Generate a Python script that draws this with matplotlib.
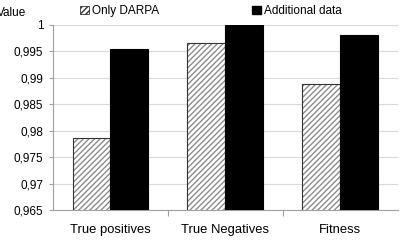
import matplotlib
matplotlib.use("Agg")
import matplotlib.pyplot as plt
import numpy as np
from matplotlib.patches import Patch
from matplotlib.ticker import FuncFormatter, MultipleLocator

plt.rcParams["font.family"] = ["Liberation Sans", "DejaVu Sans"]
plt.rcParams["font.size"] = 8

categories = ["True positives", "True Negatives", "Fitness"]
only_darpa = [0.9787, 0.9966, 0.9888]
additional = [0.9954, 1.0, 0.9981]

fig = plt.figure(figsize=(4.06, 2.40), dpi=100)
ax = fig.add_axes([0.1305, 0.125, 0.8495, 0.771])

x = np.arange(len(categories))
w = 0.33

# hatched bars: grey hatch, dark outline drawn separately
ax.bar(x - w / 2, only_darpa, w, color="white", edgecolor="#8c8c8c",
       hatch="//////", linewidth=0, zorder=2)
ax.bar(x - w / 2, only_darpa, w, color="none", edgecolor="#333333",
       linewidth=0.8, zorder=3)
ax.bar(x + w / 2, additional, w, color="black", edgecolor="black",
       linewidth=0.8, zorder=3)

ax.set_xlim(-0.5, 2.5)
ax.set_ylim(0.965, 1.0)
ax.yaxis.set_major_locator(MultipleLocator(0.005))
ax.yaxis.set_major_formatter(FuncFormatter(lambda v, p: ("%g" % round(v, 4)).replace(".", ",")))
ax.grid(axis="y", color="#d9d9d9", linewidth=0.8, zorder=0)
ax.set_axisbelow(True)

ax.set_xticks(x)
ax.set_xticklabels(categories)
ax.set_xticks([0.5, 1.5], minor=True)
ax.tick_params(axis="x", which="major", length=0, pad=10, labelsize=9.4)
ax.tick_params(axis="x", which="minor", length=4, color="#a0a0a0", width=0.8)
ax.tick_params(axis="y", length=3, color="#a0a0a0", width=0.8, pad=4, labelsize=8.5)

for s in ["top", "right"]:
    ax.spines[s].set_visible(False)
for s in ["left", "bottom"]:
    ax.spines[s].set_color("#a0a0a0")
    ax.spines[s].set_linewidth(0.8)

fig.text(-0.008, 0.946, "Value", fontsize=8.5, va="center", ha="left")

handles = [Patch(facecolor="white", edgecolor="#333333", hatch="//////", linewidth=0.6),
           Patch(facecolor="black", edgecolor="black")]
fig.legend(handles, ["Only DARPA", "Additional data"], loc="center",
           bbox_to_anchor=(0.52, 0.954), ncol=2, frameon=False,
           handlelength=0.7, handleheight=0.7, handletextpad=0.3,
           columnspacing=7.9, fontsize=8.5)

fig.savefig("out.png", dpi=100)
